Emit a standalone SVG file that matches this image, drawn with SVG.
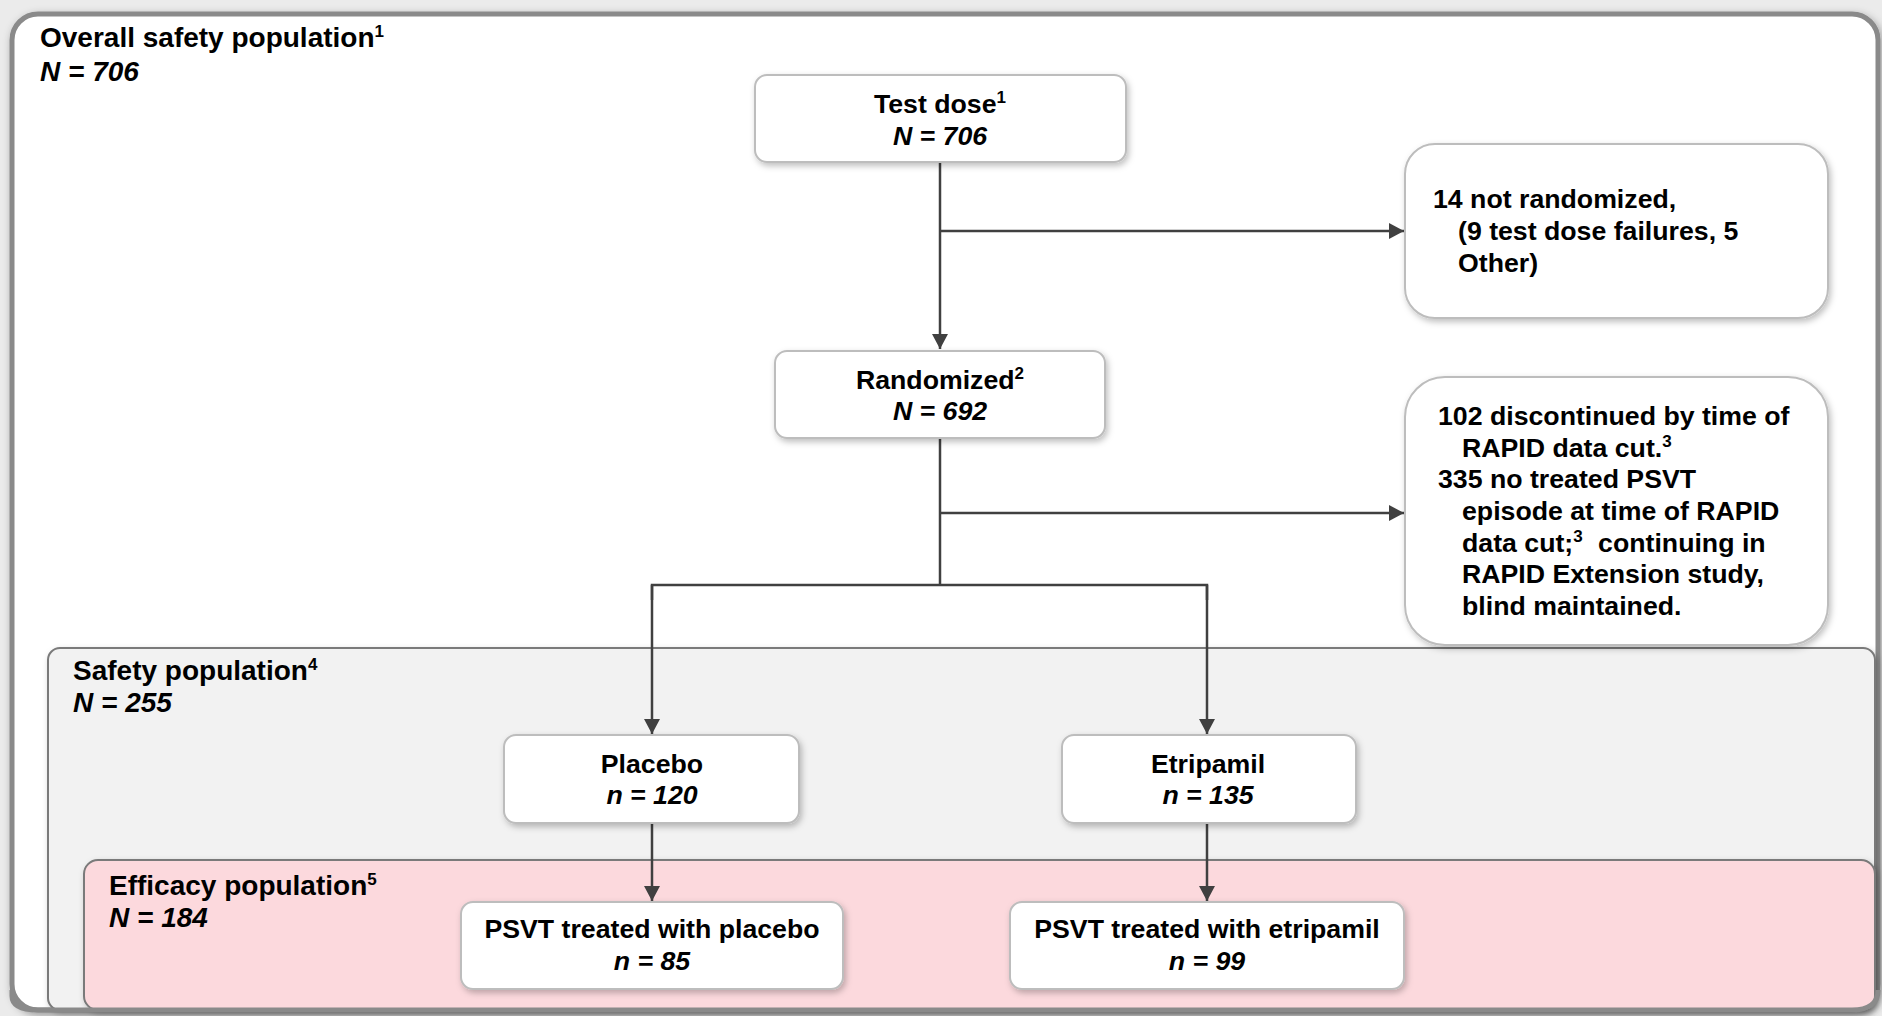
<svg xmlns="http://www.w3.org/2000/svg" width="1882" height="1016" viewBox="0 0 1882 1016">
<style>
text{font-family:"Liberation Sans",Arial,sans-serif;font-weight:bold;font-size:26.7px;fill:#000}
.t{font-size:28px}
.it{font-style:italic}
.c{text-anchor:middle}
.sup{font-size:17px}
.node{fill:#fff;stroke:#bdbdbd;stroke-width:2}
.conn{stroke:#404040;stroke-width:2.5;fill:none}
</style>
<defs>
<filter id="sh" x="-20%" y="-20%" width="140%" height="140%"><feDropShadow dx="2" dy="3" stdDeviation="3" flood-color="#000" flood-opacity="0.25"/></filter>
<filter id="sh2" x="-5%" y="-5%" width="110%" height="110%"><feDropShadow dx="2" dy="3" stdDeviation="4" flood-color="#000" flood-opacity="0.35"/></filter>
<marker id="ah" markerWidth="16" markerHeight="16" refX="15" refY="8" orient="auto" markerUnits="userSpaceOnUse"><path d="M0,0 L15,8 L0,16 Z" fill="#404040"/></marker>
</defs>
<rect x="0" y="0" width="1882" height="1016" fill="#ebebeb"/>
<g id="overall">
<rect x="12" y="14" width="1866" height="996" rx="26" fill="#fff" stroke="#8a8a8a" stroke-width="5" filter="url(#sh2)"/>
<text x="40" y="47" class="t">Overall safety population<tspan class="sup" dy="-10">1</tspan></text>
<text x="40" y="81" class="t it">N = 706</text>
</g>
<g id="safety">
<rect x="48" y="648" width="1827" height="362" rx="12" fill="#f2f2f2" stroke="#7a7a7a" stroke-width="2" filter="url(#sh)"/>
<text x="73" y="680" class="t">Safety population<tspan class="sup" dy="-10">4</tspan></text>
<text x="73" y="712" class="t it">N = 255</text>
</g>
<g id="efficacy">
<rect x="84" y="860" width="1791" height="150" rx="14" fill="#fcd9dd" stroke="#7a7a7a" stroke-width="2" filter="url(#sh)"/>
<text x="109" y="895" class="t">Efficacy population<tspan class="sup" dy="-10">5</tspan></text>
<text x="109" y="927" class="t it">N = 184</text>
</g>
<g id="frame-bottom">
<path d="M12,990 L12,996 Q12,1010 38,1010 L1852,1010 Q1878,1010 1878,990" fill="none" stroke="#8a8a8a" stroke-width="5"/>
</g>
<g id="connectors">
<line class="conn" x1="940" y1="162" x2="940" y2="349" marker-end="url(#ah)"/>
<line class="conn" x1="940" y1="231" x2="1404" y2="231" marker-end="url(#ah)"/>
<line class="conn" x1="940" y1="438" x2="940" y2="585"/>
<line class="conn" x1="940" y1="513" x2="1404" y2="513" marker-end="url(#ah)"/>
<polyline class="conn" points="652,600 652,585 1207,585 1207,600"/>
<line class="conn" x1="652" y1="585" x2="652" y2="734" marker-end="url(#ah)"/>
<line class="conn" x1="1207" y1="585" x2="1207" y2="734" marker-end="url(#ah)"/>
<line class="conn" x1="652" y1="823" x2="652" y2="901" marker-end="url(#ah)"/>
<line class="conn" x1="1207" y1="823" x2="1207" y2="901" marker-end="url(#ah)"/>
</g>
<g id="test-dose">
<rect class="node" x="755" y="75" width="371" height="87" rx="12" filter="url(#sh)"/>
<text x="940" y="113" class="c">Test dose<tspan class="sup" dy="-10">1</tspan></text>
<text x="940" y="145" class="c it">N = 706</text>
</g>
<g id="not-randomized">
<rect class="node" x="1405" y="144" width="423" height="174" rx="30" filter="url(#sh)"/>
<text x="1433" y="208">14 not randomized,</text>
<text x="1458" y="240">(9 test dose failures, 5</text>
<text x="1458" y="272">Other)</text>
</g>
<g id="randomized">
<rect class="node" x="775" y="351" width="330" height="87" rx="12" filter="url(#sh)"/>
<text x="940" y="389" class="c">Randomized<tspan class="sup" dy="-10">2</tspan></text>
<text x="940" y="420" class="c it">N = 692</text>
</g>
<g id="discontinued">
<rect class="node" x="1405" y="377" width="423" height="268" rx="40" filter="url(#sh)"/>
<text x="1438" y="425">102 discontinued by time of</text>
<text x="1462" y="457">RAPID data cut.<tspan class="sup" dy="-10">3</tspan></text>
<text x="1438" y="488">335 no treated PSVT</text>
<text x="1462" y="520">episode at time of RAPID</text>
<text x="1462" y="552">data cut;<tspan class="sup" dy="-10">3</tspan><tspan dx="8" dy="10"> continuing in</tspan></text>
<text x="1462" y="583">RAPID Extension study,</text>
<text x="1462" y="615">blind maintained.</text>
</g>
<g id="placebo">
<rect class="node" x="504" y="735" width="295" height="88" rx="12" filter="url(#sh)"/>
<text x="652" y="773" class="c">Placebo</text>
<text x="652" y="804" class="c it">n = 120</text>
</g>
<g id="etripamil">
<rect class="node" x="1062" y="735" width="294" height="88" rx="12" filter="url(#sh)"/>
<text x="1208" y="773" class="c">Etripamil</text>
<text x="1208" y="804" class="c it">n = 135</text>
</g>
<g id="psvt-placebo">
<rect class="node" x="461" y="902" width="382" height="87" rx="12" filter="url(#sh)"/>
<text x="652" y="938" class="c">PSVT treated with placebo</text>
<text x="652" y="970" class="c it">n = 85</text>
</g>
<g id="psvt-etripamil">
<rect class="node" x="1010" y="902" width="394" height="87" rx="12" filter="url(#sh)"/>
<text x="1207" y="938" class="c">PSVT treated with etripamil</text>
<text x="1207" y="970" class="c it">n = 99</text>
</g>
</svg>
